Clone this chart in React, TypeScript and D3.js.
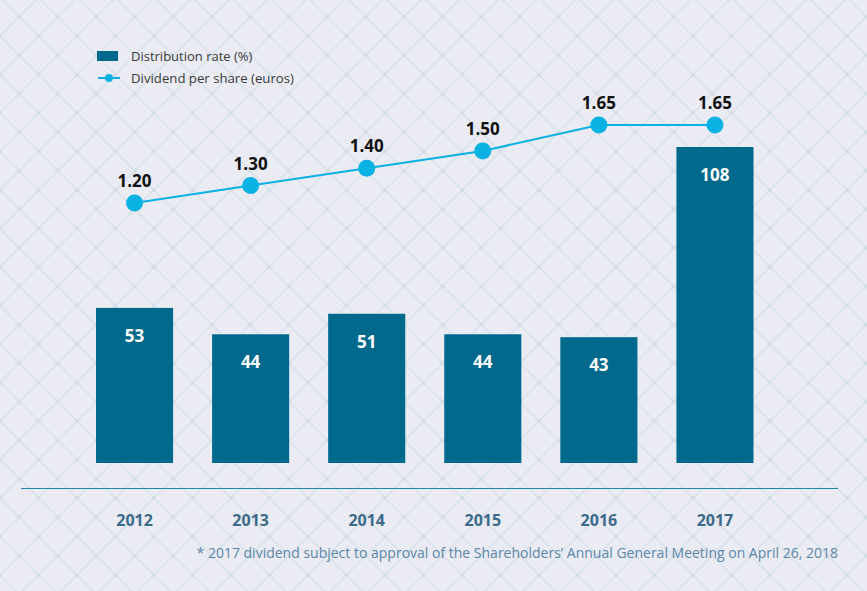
import React from "react";
import * as d3 from "d3";

const years = ["2012", "2013", "2014", "2015", "2016", "2017"];
const distributionRate = [53, 44, 51, 44, 43, 108];
const dividend = [1.2, 1.3, 1.4, 1.5, 1.65, 1.65];
const dividendLabels = ["1.20", "1.30", "1.40", "1.50", "1.65", "1.65"];
const legendLabels = ["Distribution rate (%)", "Dividend per share (euros)"];
const footnote =
  "* 2017 dividend subject to approval of the Shareholders\u2019 Annual General Meeting on April 26, 2018";

const W = 867;
const H = 591;
const FONT = "'Open Sans', 'Noto Sans', sans-serif";
const BAR = "#00698c";
const LINE = "#0ab1e3";

export default function App() {
  const x = d3
    .scaleBand<string>()
    .domain(years)
    .range([76.5, 773])
    .paddingInner(0.336)
    .paddingOuter(0.168);
  const baseY = 463;
  const yBar = d3.scaleLinear().domain([0, 108]).range([baseY, baseY - 316]);
  const yLine = d3.scaleLinear().domain([0, 1.65]).range([410.6, 125]);
  const cx = (d: string) => (x(d) as number) + x.bandwidth() / 2;

  const lineGen = d3
    .line<number>()
    .x((_, i) => cx(years[i]))
    .y((v) => yLine(v));

  const p = 38.5;
  return (
    <svg
      width={W}
      height={H}
      style={{ position: "absolute", left: 0, top: 0, display: "block" }}
    >
      <defs>
        <pattern
          id="bg"
          x={0}
          y={-2.5}
          width={p}
          height={p}
          patternUnits="userSpaceOnUse"
        >
          <rect width={p} height={p} fill="#eaebf3" />
          <line x1={0} y1={0} x2={p} y2={p} stroke="#d7e1e8" strokeWidth={1.3} />
          <line x1={p} y1={0} x2={0} y2={p} stroke="#d7e1e8" strokeWidth={1.3} />
          <circle cx={0} cy={0} r={2} fill="#d2dee5" />
          <circle cx={p} cy={0} r={2} fill="#d2dee5" />
          <circle cx={0} cy={p} r={2} fill="#d2dee5" />
          <circle cx={p} cy={p} r={2} fill="#d2dee5" />
          <circle cx={p / 2} cy={p / 2} r={2} fill="#d2dee5" />
        </pattern>
      </defs>
      <rect width={W} height={H} fill="url(#bg)" />

      {/* Legend */}
      <rect x={97} y={51} width={21} height={10} fill={BAR} />
      <text x={131} y={60.5} fontFamily={FONT} fontSize={13} fill="#3a3a3a">
        {legendLabels[0]}
      </text>
      <line x1={98} x2={120} y1={78} y2={78} stroke={LINE} strokeWidth={2} />
      <circle cx={109} cy={78} r={4} fill={LINE} />
      <text x={131} y={82.5} fontFamily={FONT} fontSize={13.2} fill="#3a3a3a">
        {legendLabels[1]}
      </text>

      {/* Bars */}
      {distributionRate.map((v, i) => (
        <g key={years[i]}>
          <rect
            x={x(years[i])}
            y={yBar(v)}
            width={x.bandwidth()}
            height={baseY - yBar(v)}
            fill={BAR}
          />
          <text
            x={cx(years[i])}
            y={yBar(v) + 34}
            textAnchor="middle"
            fontFamily={FONT}
            fontWeight={700}
            fontSize={17}
            fill="#ffffff"
          >
            {v}
          </text>
        </g>
      ))}

      {/* Axis line */}
      <line x1={21} x2={838} y1={488.5} y2={488.5} stroke="#1f86a8" strokeWidth={1.2} />

      {/* Year labels */}
      {years.map((yv) => (
        <text
          key={yv}
          x={cx(yv)}
          y={525.5}
          textAnchor="middle"
          fontFamily={FONT}
          fontWeight={700}
          fontSize={16}
          fill="#3b6a8a"
        >
          {yv}
        </text>
      ))}

      {/* Line */}
      <path d={lineGen(dividend) || ""} fill="none" stroke={LINE} strokeWidth={2} />
      {dividend.map((v, i) => (
        <g key={"p" + i}>
          <circle cx={cx(years[i])} cy={yLine(v)} r={8.5} fill={LINE} />
          <text
            x={cx(years[i])}
            y={yLine(v) - 16}
            textAnchor="middle"
            fontFamily={FONT}
            fontWeight={700}
            fontSize={17}
            fill="#111111"
          >
            {dividendLabels[i]}
          </text>
        </g>
      ))}

      {/* Footnote */}
      <text
        x={838}
        y={557.5}
        textAnchor="end"
        fontFamily={FONT}
        fontSize={14}
        fill="#5a87a8"
      >
        {footnote}
      </text>
    </svg>
  );
}
